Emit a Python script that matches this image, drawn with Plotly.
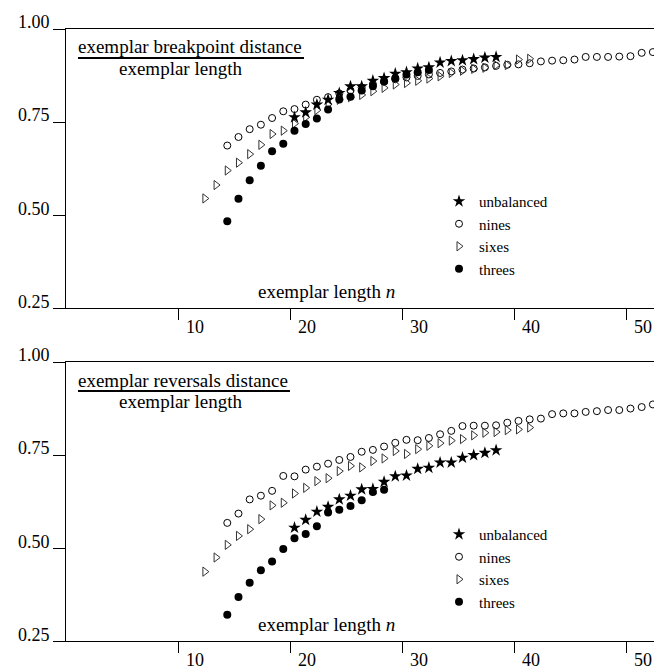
import plotly.graph_objects as go

W, H = 662, 669
FONT = "Liberation Serif, Times New Roman, serif"
FS_TICK = 18
FS_TEXT = 19
FS_LEG = 15

# ---------------- data ----------------
series_names = ["unbalanced", "nines", "sixes", "threes"]
tick_labels = ["10", "20", "30", "40", "50"]
tick_values = [10, 20, 30, 40, 50]
y_ticks = [0.25, 0.50, 0.75, 1.00]
y_tick_labels = ["0.25", "0.50", "0.75", "1.00"]

n_unbalanced = list(range(20, 39))
n_nines = list(range(14, 53))
n_sixes = list(range(12, 42))
n_threes_top = list(range(14, 33))
n_threes_bottom = list(range(14, 29))

# breakpoint distance / length (top panel)
bp_unbalanced = [0.763, 0.776, 0.797, 0.810, 0.828, 0.846, 0.846, 0.861, 0.868, 0.880,
                 0.884, 0.894, 0.897, 0.910, 0.914, 0.916, 0.919, 0.923, 0.925]
bp_nines = [0.687, 0.710, 0.731, 0.743, 0.761, 0.779, 0.785, 0.797, 0.810, 0.817,
            0.827, 0.835, 0.843, 0.852, 0.858, 0.865, 0.870, 0.874, 0.878, 0.882,
            0.886, 0.891, 0.894, 0.897, 0.901, 0.904, 0.905, 0.908, 0.913, 0.915,
            0.916, 0.918, 0.925, 0.925, 0.925, 0.926, 0.927, 0.936, 0.938]
bp_sixes = [0.545, 0.581, 0.620, 0.641, 0.664, 0.689, 0.718, 0.727, 0.746, 0.763,
            0.782, 0.798, 0.810, 0.817, 0.823, 0.833, 0.842, 0.851, 0.855, 0.861,
            0.867, 0.873, 0.882, 0.888, 0.893, 0.896, 0.903, 0.903, 0.918, 0.920]
bp_threes = [0.484, 0.544, 0.594, 0.633, 0.672, 0.692, 0.727, 0.745, 0.760, 0.784,
             0.811, 0.818, 0.835, 0.846, 0.860, 0.868, 0.878, 0.884, 0.890]

# reversals distance / length (bottom panel)
rv_unbalanced = [0.555, 0.576, 0.598, 0.611, 0.631, 0.641, 0.658, 0.659, 0.678, 0.693,
                 0.695, 0.713, 0.716, 0.730, 0.730, 0.743, 0.750, 0.756, 0.763]
rv_nines = [0.568, 0.593, 0.631, 0.641, 0.654, 0.694, 0.693, 0.711, 0.719, 0.727,
            0.737, 0.745, 0.759, 0.764, 0.773, 0.783, 0.791, 0.790, 0.796, 0.806,
            0.815, 0.828, 0.829, 0.829, 0.830, 0.837, 0.842, 0.846, 0.848, 0.860,
            0.862, 0.862, 0.866, 0.868, 0.871, 0.871, 0.875, 0.879, 0.886]
rv_sixes = [0.437, 0.475, 0.509, 0.533, 0.551, 0.578, 0.615, 0.622, 0.647, 0.662,
            0.680, 0.688, 0.707, 0.721, 0.717, 0.734, 0.741, 0.761, 0.753, 0.766,
            0.775, 0.782, 0.789, 0.793, 0.803, 0.810, 0.812, 0.817, 0.819, 0.824]
rv_threes = [0.321, 0.369, 0.407, 0.441, 0.464, 0.498, 0.527, 0.538, 0.559, 0.596,
             0.603, 0.613, 0.629, 0.651, 0.657]

# ---------------- layout helpers ----------------
ML, MR = 58, 8
PW = W - ML - MR
def px_x(px):
    return (px - ML) / PW
def px_y(py):
    return 1 - py / H

TICK_OFFSET = -0.4
X_RANGE = [-0.4, -0.4 + PW / 11.2]
TOP_Y0, PANEL_H, DY = 21, 279.3, 333

styles = {
    "unbalanced": dict(symbol="star", size=9.5, color="black", line=dict(width=0)),
    "nines": dict(symbol="circle-open", size=7, color="black", line=dict(width=1)),
    "sixes": dict(symbol="triangle-right-open", size=8, color="#333333", line=dict(width=1)),
    "threes": dict(symbol="circle", size=8, color="black", line=dict(width=0)),
}
rank = {"unbalanced": 1, "nines": 2, "sixes": 3, "threes": 4}

fig = go.Figure()
panels = [
    ("x", "y", "legend", {"unbalanced": (n_unbalanced, bp_unbalanced), "nines": (n_nines, bp_nines),
                          "sixes": (n_sixes, bp_sixes), "threes": (n_threes_top, bp_threes)}),
    ("x2", "y2", "legend2", {"unbalanced": (n_unbalanced, rv_unbalanced), "nines": (n_nines, rv_nines),
                             "sixes": (n_sixes, rv_sixes), "threes": (n_threes_bottom, rv_threes)}),
]
draw_order = ["nines", "sixes", "threes", "unbalanced"]
for xa, ya, lg, data in panels:
    for name in draw_order:
        xs, ys = data[name]
        fig.add_trace(go.Scatter(
            x=xs, y=ys, mode="markers", name=name, xaxis=xa, yaxis=ya,
            legend=lg, legendrank=rank[name], marker=styles[name],
        ))

top_dom = [px_y(TOP_Y0 + PANEL_H), px_y(TOP_Y0)]
bot_dom = [px_y(TOP_Y0 + DY + PANEL_H), px_y(TOP_Y0 + DY)]

axis_common = dict(showline=True, linecolor="black", linewidth=1, mirror=True,
                   showgrid=False, zeroline=False, ticks="outside", tickcolor="black",
                   tickwidth=1, automargin=False,
                   tickfont=dict(family=FONT, size=FS_TICK, color="black"))
xcommon = dict(axis_common, range=X_RANGE, tickvals=[t + TICK_OFFSET for t in tick_values],
               ticktext=tick_labels, ticklen=11, ticklabelshift=17, ticklabelstandoff=-9)
ycommon = dict(axis_common, range=[0.25, 1.0], tickvals=y_ticks, ticktext=y_tick_labels,
               ticklen=12, ticklabelshift=-7)

leg_common = dict(xanchor="left", yanchor="top", bgcolor="rgba(0,0,0,0)",
                  font=dict(family=FONT, size=FS_LEG), itemwidth=30, traceorder="normal")
fig.update_layout(
    width=W, height=H, margin=dict(l=ML, r=MR, t=0, b=0, autoexpand=False),
    paper_bgcolor="white", plot_bgcolor="white",
    font=dict(family=FONT, size=FS_TEXT, color="black"),
    xaxis=dict(xcommon, anchor="y", domain=[0, 1]),
    yaxis=dict(ycommon, anchor="x", domain=top_dom),
    xaxis2=dict(xcommon, anchor="y2", domain=[0, 1]),
    yaxis2=dict(ycommon, anchor="x2", domain=bot_dom),
    legend=dict(leg_common, x=px_x(431), y=px_y(TOP_Y0 + 156)),
    legend2=dict(leg_common, x=px_x(431), y=px_y(TOP_Y0 + 156 + DY)),
    showlegend=True,
)

# fraction labels and axis label text
shapes = []
annos = []
for dy, numer, bar_end in [(0, "exemplar breakpoint distance", 296), (DY, "exemplar reversals distance", 282)]:
    base = TOP_Y0 + dy
    annos.append(dict(text=numer, x=px_x(68), y=px_y(base + 18), xref="paper", yref="paper",
                      xanchor="left", yanchor="middle", showarrow=False,
                      font=dict(family=FONT, size=FS_TEXT)))
    annos.append(dict(text="exemplar length", x=px_x(172), y=px_y(base + 39), xref="paper", yref="paper",
                      xanchor="center", yanchor="middle", showarrow=False,
                      font=dict(family=FONT, size=FS_TEXT)))
    annos.append(dict(text="exemplar length <i>n</i>", x=px_x(318), y=px_y(base + 262), xref="paper",
                      yref="paper", xanchor="center", yanchor="middle", showarrow=False,
                      font=dict(family=FONT, size=FS_TEXT)))
    shapes.append(dict(type="line", xref="paper", yref="paper", x0=px_x(70), x1=px_x(bar_end),
                       y0=px_y(base + 29), y1=px_y(base + 29), line=dict(color="black", width=2)))
fig.update_layout(annotations=annos, shapes=shapes)

fig.write_html("out.html")
